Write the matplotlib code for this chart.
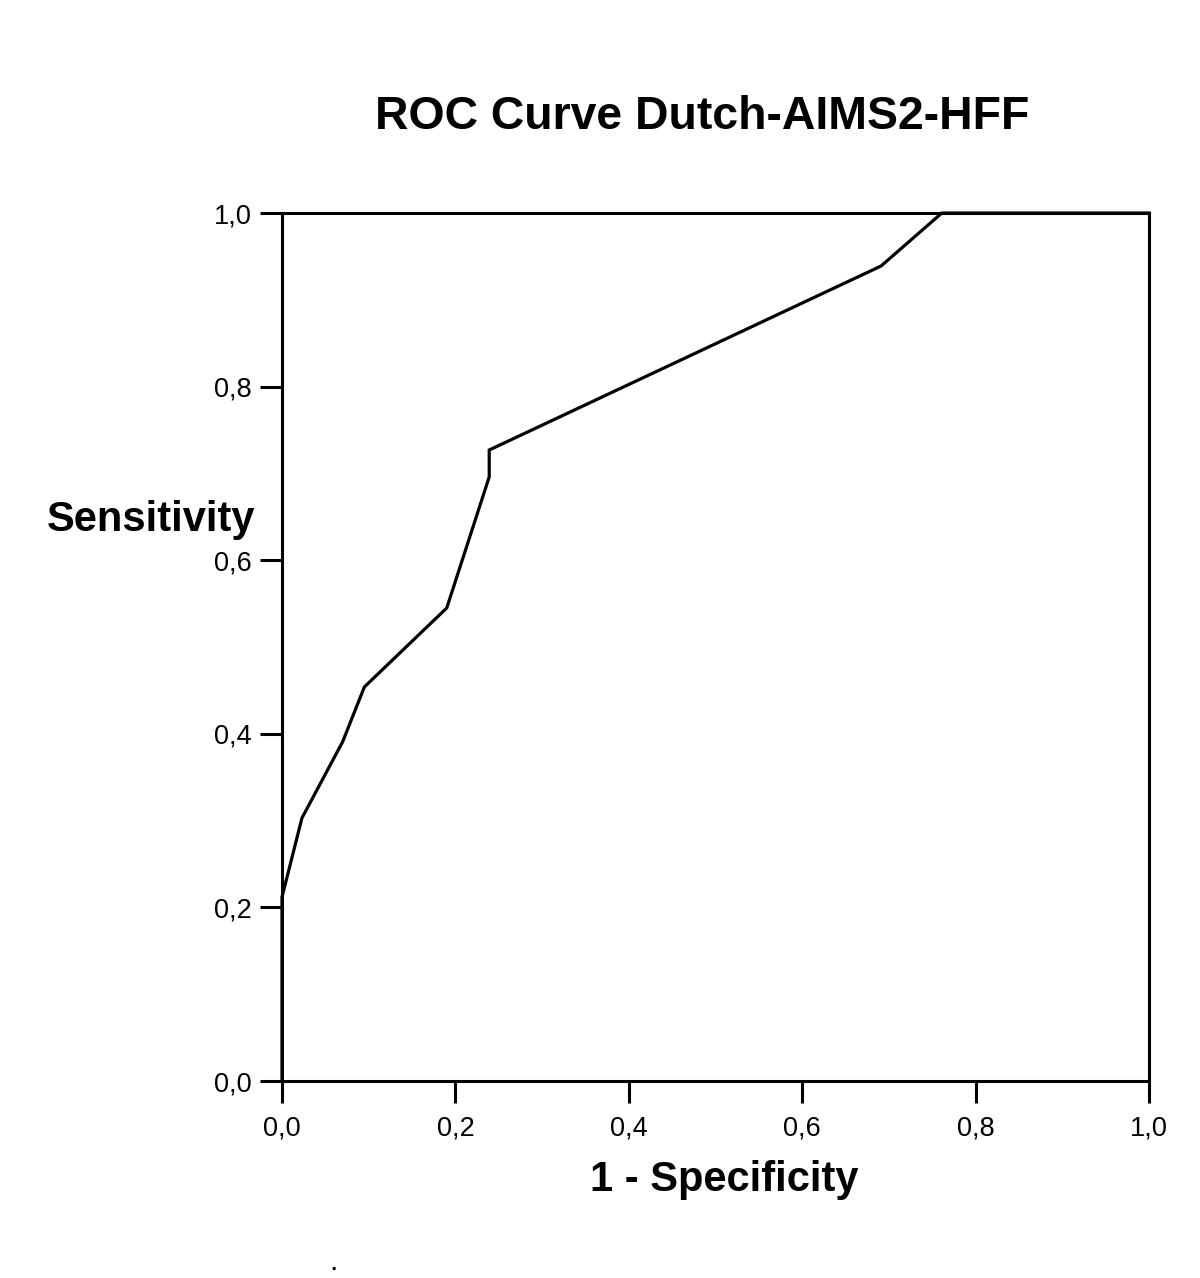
import numpy as np
import matplotlib
matplotlib.use("Agg")
import matplotlib.pyplot as plt

plt.rcParams['font.family'] = ['Liberation Sans', 'DejaVu Sans']

# ROC points (1 - specificity, sensitivity)
fpr = [0.0, 0.0, 0.023, 0.070, 0.095, 0.190, 0.239, 0.239, 0.691, 0.761, 1.0]
tpr = [0.0, 0.212, 0.303, 0.391, 0.454, 0.545, 0.696, 0.727, 0.939, 1.0, 1.0]
ticks = [0.0, 0.2, 0.4, 0.6, 0.8, 1.0]
tick_labels = ["0,0", "0,2", "0,4", "0,6", "0,8", "1,0"]

fig = plt.figure(figsize=(12, 12.78), dpi=100)
ax = fig.add_axes([0.235, 0.1541, 0.7225, 0.6792])

ax.plot(fpr, tpr, color='black', lw=2.3, clip_on=False, solid_joinstyle='miter')

ax.set_xlim(0, 1)
ax.set_ylim(0, 1)
ax.set_xticks(ticks)
ax.set_yticks(ticks)
ax.set_xticklabels(tick_labels)
ax.set_yticklabels(tick_labels)
ax.tick_params(direction='out', length=16, width=2.2, labelsize=19.5, pad=6)
ax.tick_params(axis='x', pad=9)
for s in ax.spines.values():
    s.set_linewidth(2.2)

fig.text(0.585, 0.9085, "ROC Curve Dutch-AIMS2-HFF", ha='center', va='center',
         fontsize=33.4, fontweight='bold')
fig.text(151 / 1200, 1 - 520 / 1278, "Sensitivity", ha='center', va='center',
         fontsize=30, fontweight='bold')
fig.text(724 / 1200, 1 - 1180 / 1278, "1 - Specificity", ha='center', va='center',
         fontsize=30, fontweight='bold')
fig.text(333 / 1200, 1 - 1262 / 1278, ".", ha='center', va='center', fontsize=22)

fig.savefig("out.png", dpi=100)
